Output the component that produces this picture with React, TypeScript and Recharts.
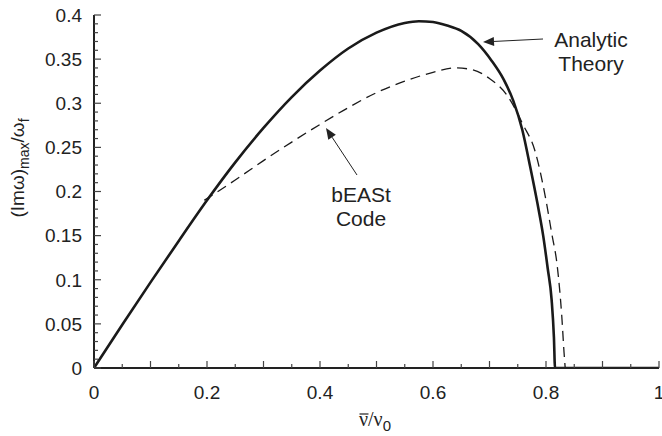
import { LineChart, Line, XAxis, YAxis } from "recharts";

// Analytic theory (solid)
const THEORY_X = [0, 0.05, 0.1, 0.15, 0.2, 0.25, 0.3, 0.35, 0.4, 0.45, 0.5, 0.55, 0.575, 0.6, 0.625, 0.65, 0.68, 0.704, 0.725, 0.742, 0.758, 0.772, 0.785, 0.795, 0.803, 0.81, 0.814, 0.816, 1];
const THEORY_Y = [0, 0.049, 0.097, 0.144, 0.19, 0.233, 0.272, 0.307, 0.337, 0.362, 0.38, 0.391, 0.393, 0.392, 0.388, 0.382, 0.367, 0.348, 0.327, 0.303, 0.27, 0.228, 0.186, 0.15, 0.113, 0.077, 0.035, 0, 0];

// bEASt code (dashed)
const CODE_X = [0.195, 0.25, 0.3, 0.35, 0.4, 0.45, 0.5, 0.55, 0.6, 0.64, 0.67, 0.7, 0.73, 0.76, 0.78, 0.8, 0.81, 0.82, 0.828, 0.832, 0.834];
const CODE_Y = [0.19, 0.213, 0.235, 0.256, 0.276, 0.295, 0.312, 0.325, 0.335, 0.34, 0.338, 0.328, 0.31, 0.275, 0.247, 0.19, 0.153, 0.115, 0.058, 0.017, 0];

const X_LABELS = [0, 0.2, 0.4, 0.6, 0.8, 1];
const Y_LABELS = [0, 0.05, 0.1, 0.15, 0.2, 0.25, 0.3, 0.35, 0.4];
const X_TICKS = Array.from({ length: 21 }, (_, i) => i / 20);
const Y_TICKS = Array.from({ length: 41 }, (_, i) => i / 100);

const theory = THEORY_X.map((x, i) => ({ x, y: THEORY_Y[i] }));
const code = CODE_X.map((x, i) => ({ x, y: CODE_Y[i] }));

const FONT = "'Liberation Sans', Arial, sans-serif";
const INK = "#222";

const near = (a: number, list: number[]) => list.some((v) => Math.abs(v - a) < 1e-6);

const XTick = ({ x, y, payload, top }: any) => {
  const v = payload.value;
  const major = Math.round(v * 20) % 2 === 0;
  const len = major ? 7 : 4;
  const dir = top ? 1 : -1;
  return (
    <g>
      <line x1={x} x2={x} y1={y} y2={y + dir * len} stroke="#444" strokeWidth={1.2} />
      {!top && near(v, X_LABELS) && (
        <text x={x} y={y + 31} textAnchor="middle" fontFamily={FONT} fontSize={19} fill={INK}>
          {String(v)}
        </text>
      )}
    </g>
  );
};

const YTick = ({ x, y, payload, right }: any) => {
  const v = payload.value;
  const major = near(v, Y_LABELS);
  const len = major ? 7 : 4;
  const dir = right ? -1 : 1;
  return (
    <g>
      <line x1={x} x2={x + dir * len} y1={y} y2={y} stroke="#444" strokeWidth={1.2} />
      {!right && major && (
        <text x={x - 12} y={y} dy="0.36em" textAnchor="end" fontFamily={FONT} fontSize={19} fill={INK}>
          {String(v)}
        </text>
      )}
    </g>
  );
};

const Arrow = ({ x1, y1, x2, y2 }: { x1: number; y1: number; x2: number; y2: number }) => {
  const a = Math.atan2(y2 - y1, x2 - x1);
  const L = 11;
  const W = 4.5;
  const bx = x2 - L * Math.cos(a);
  const by = y2 - L * Math.sin(a);
  const px = -Math.sin(a) * W;
  const py = Math.cos(a) * W;
  return (
    <g>
      <line x1={x1} y1={y1} x2={bx} y2={by} stroke={INK} strokeWidth={1} />
      <polygon points={`${x2},${y2} ${bx + px},${by + py} ${bx - px},${by - py}`} fill={INK} />
    </g>
  );
};

export default function App() {
  return (
    <div style={{ position: "absolute", left: 0, top: 0, width: 662, height: 436, background: "#fff" }}>
      <LineChart width={662} height={436} margin={{ top: 15, right: 3, bottom: 0, left: 0 }}>
        <XAxis
          xAxisId="b"
          type="number"
          dataKey="x"
          domain={[0, 1]}
          ticks={X_TICKS}
          interval={0}
          tickSize={0}
          tickMargin={0}
          height={68}
          axisLine={{ stroke: "#222", strokeWidth: 2 }}
          tick={<XTick />}
          allowDataOverflow
        />
        <XAxis
          xAxisId="t"
          orientation="top"
          type="number"
          dataKey="x"
          domain={[0, 1]}
          ticks={X_TICKS}
          interval={0}
          tickSize={0}
          tickMargin={0}
          height={0}
          axisLine={{ stroke: "#555", strokeWidth: 2 }}
          tick={<XTick top />}
        />
        <YAxis
          yAxisId="l"
          type="number"
          domain={[0, 0.4]}
          ticks={Y_TICKS}
          interval={0}
          tickSize={0}
          tickMargin={0}
          width={94}
          axisLine={{ stroke: "#222", strokeWidth: 2 }}
          tick={<YTick />}
          allowDataOverflow
        />
        <YAxis
          yAxisId="r"
          orientation="right"
          type="number"
          domain={[0, 0.4]}
          ticks={Y_TICKS}
          interval={0}
          tickSize={0}
          tickMargin={0}
          width={0}
          axisLine={{ stroke: "#555", strokeWidth: 2 }}
          tick={<YTick right />}
        />
        <Line
          xAxisId="b"
          yAxisId="l"
          data={code}
          dataKey="y"
          type="monotone"
          stroke="#1a1a1a"
          strokeWidth={1.3}
          strokeDasharray="10 6"
          dot={false}
          isAnimationActive={false}
        />
        <Line
          xAxisId="b"
          yAxisId="l"
          data={theory}
          dataKey="y"
          type="monotone"
          stroke="#1a1a1a"
          strokeWidth={2.6}
          dot={false}
          isAnimationActive={false}
        />
      </LineChart>
      <svg width={662} height={436} style={{ position: "absolute", left: 0, top: 0, pointerEvents: "none" }}>
        <text fontFamily={FONT} fontSize={21} fill={INK} textAnchor="middle">
          <tspan x={591} y={47}>Analytic</tspan>
          <tspan x={591} y={71}>Theory</tspan>
        </text>
        <Arrow x1={543} y1={39} x2={483} y2={42} />
        <text fontFamily={FONT} fontSize={21} fill={INK} textAnchor="middle">
          <tspan x={361} y={202}>bEASt</tspan>
          <tspan x={361} y={226}>Code</tspan>
        </text>
        <Arrow x1={357} y1={175} x2={326} y2={128} />
        <text
          transform="translate(24,168) rotate(-90)"
          fontFamily={FONT}
          fontSize={19}
          fill={INK}
          textAnchor="middle"
        >
          (Imω)
          <tspan fontSize={14} dy={5}>max</tspan>
          <tspan dy={-5}>/ω</tspan>
          <tspan fontSize={14} dy={5}>f</tspan>
        </text>
        <line x1={359.5} x2={368.5} y1={414} y2={414} stroke={INK} strokeWidth={1.2} />
        <text x={359} y={426} fontFamily="'Liberation Serif', 'Times New Roman', serif" fontSize={20} fill={INK}>
          ν/ν
          <tspan fontFamily={FONT} fontSize={15} dy={5}>0</tspan>
        </text>
      </svg>
    </div>
  );
}
